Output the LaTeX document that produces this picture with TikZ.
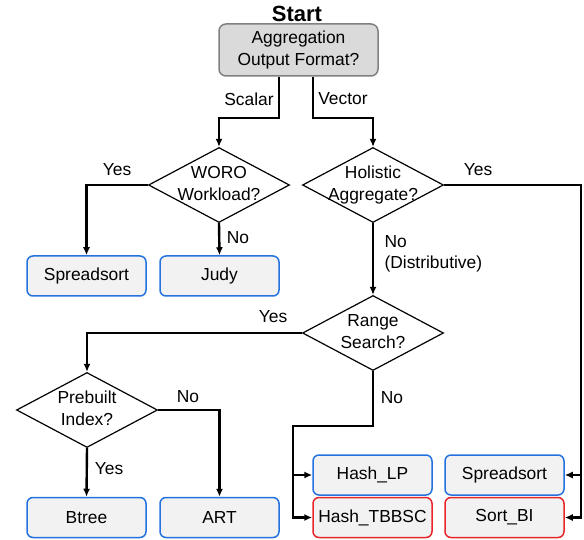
\documentclass[tikz,border=0pt]{standalone}
\usepackage{fontspec}
\setmainfont{Liberation Sans}
\usetikzlibrary{shapes.geometric,arrows.meta}

\definecolor{boxfill}{HTML}{F2F2F2}
\definecolor{topfill}{HTML}{DADADA}
\definecolor{blueline}{HTML}{2472E0}
\definecolor{redline}{HTML}{E8262A}

\tikzset{
  base/.style={font=\fontsize{17.4}{21.5}\selectfont},
  leaf/.style={base, draw=blueline, line width=1.5pt, fill=boxfill, rounded corners=6pt,
    minimum width=119pt, minimum height=40pt, inner sep=0pt},
  newleaf/.style={leaf, draw=redline},
  question/.style={base, diamond, draw, line width=1.2pt, fill=white, aspect=1.88,
    minimum width=141pt, minimum height=75pt, inner sep=0pt},
  flow/.style={line width=2.4pt, -{Latex[length=8pt,width=7pt]}},
  tag/.style={base}
}
\newcommand{\qtext}[1]{\makebox[0pt]{\begin{tabular}{@{}c@{}}#1\end{tabular}}}

\begin{document}
\begin{tikzpicture}[x=1pt,y=-1pt]
    \useasboundingbox (0,0) rectangle (584,540);

    % root
    \node[font=\fontsize{22}{26}\selectfont\bfseries] (start) at (297,14) {Start};
    \node[base, draw=gray, line width=1.5pt, fill=topfill, rounded corners=7pt,
      minimum width=159pt, minimum height=52pt, align=center] (fmt) at (298.5,50)
      {Aggregation\\Output Format?};

    % questions
    \node[question] (woro) at (219,185) {\qtext{WORO\\Workload?}};
    \node[question] (holi) at (373,185) {\qtext{Holistic\\Aggregate?}};
    \node[question] (range) at (373,333) {\qtext{Range\\Search?}};
    \node[question] (pre) at (87,410) {\qtext{Prebuilt\\Index?}};

    % leaves
    \node[leaf] (ss1) at (86.5,276) {Spreadsort};
    \node[leaf] (judy) at (219.5,276) {Judy};
    \node[leaf] (btree) at (86.5,517.5) {Btree};
    \node[leaf] (art) at (219.5,517.5) {ART};
    \node[leaf] (hashlp) at (372.5,475) {Hash\_LP};
    \node[newleaf] (hashtb) at (372.5,517.5) {Hash\_TBBSC};
    \node[leaf] (ss2) at (504.5,475) {Spreadsort};
    \node[newleaf] (sortbi) at (504.5,517.5) {Sort\_BI};

    % connectors
    \draw[flow] ([xshift=-19.5pt]fmt.south) -- ++(0,41) -| (woro.north);
    \draw[flow] ([xshift=14.5pt]fmt.south) -- ++(0,41) -| (holi.north);
    \draw[flow] (woro.west) -| (ss1.north);
    \draw[flow] (woro.south) -- (judy.north);
    \draw[flow] (holi.east) -| ([xshift=16pt]sortbi.east) -- (sortbi.east);
    \draw[flow] ([xshift=16pt]ss2.east) -- (ss2.east);
    \draw[flow] (holi.south) -- (range.north);
    \draw[flow] (range.west) -| (pre.north);
    \draw[flow] (range.south) -- ++(0,55) -| ([xshift=-19pt]hashtb.west) -- (hashtb.west);
    \draw[flow] ([xshift=-19pt]hashlp.west) -- (hashlp.west);
    \draw[flow] (pre.south) -- (btree.north);
    \draw[flow] (pre.east) -| (art.north);

    % labels
    \node[tag] (lscalar) at (249,99) {Scalar};
    \node[tag] (lvector) at (343,99) {Vector};
    \node[tag] (lwyes) at (117,170) {Yes};
    \node[tag] (lwno) at (238,238) {No};
    \node[tag] (lhyes) at (478,170) {Yes};
    \node[tag, anchor=west, align=left] (lhno) at (381,254) {No\\(Distributive)};
    \node[tag] (lryes) at (273,317) {Yes};
    \node[tag] (lrno) at (392,398) {No};
    \node[tag] (lpno) at (188,397) {No};
    \node[tag] (lpyes) at (109,469) {Yes};
\end{tikzpicture}
\end{document}
